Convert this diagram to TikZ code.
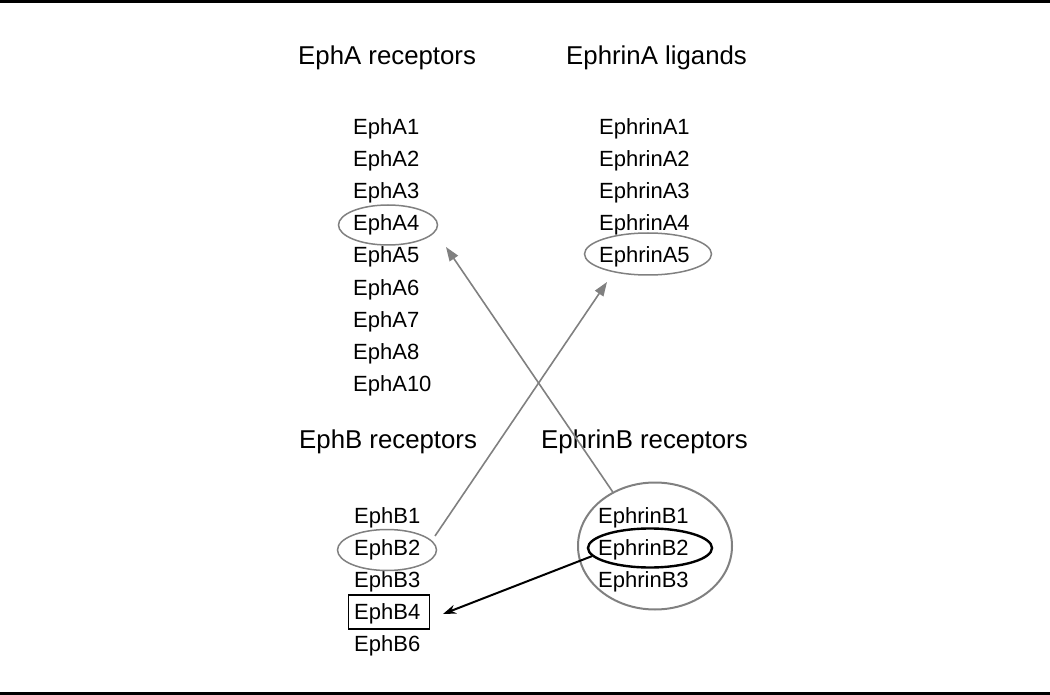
\documentclass[tikz,border=0pt]{standalone}
\usepackage{fontspec}
\setmainfont{Liberation Sans}
\usetikzlibrary{shapes.geometric,arrows.meta}
\definecolor{ringgray}{HTML}{808080}
\begin{document}
\begin{tikzpicture}[x=1pt,y=-1pt,
  item/.style={anchor=base west,inner sep=0pt,font=\fontsize{22}{26}\selectfont},
  ttl/.style={anchor=base west,inner sep=0pt,font=\fontsize{25.8}{30}\selectfont},
  gring/.style={ellipse,draw=ringgray,line width=1.5pt,inner sep=0pt},
  bring/.style={ellipse,draw=black,line width=2.4pt,inner sep=0pt},
  garrow/.style={draw=ringgray,line width=1.6pt,-{Triangle[length=14pt,width=10pt]},color=ringgray},
  barrow/.style={draw=black,line width=2pt,-{Stealth[length=13pt,width=9pt]}}]
\useasboundingbox (0,0) rectangle (1050,695);
\fill[black] (0,0) rectangle (1050,3.5);
\fill[black] (0,691.5) rectangle (1050,695);
% titles
\node[ttl] (tA) at (298,65) {EphA receptors};
\node[ttl] (tEA) at (566,65) {EphrinA ligands};
\node[ttl] (tB) at (299,448) {EphB receptors};
\node[ttl] (tEB) at (541,448) {EphrinB receptors};
% EphA list
\node[item] (a1) at (353,135) {EphA1};
\node[item] (a2) at (353,167) {EphA2};
\node[item] (a3) at (353,199) {EphA3};
\node[item] (a4) at (353,231) {EphA4};
\node[item] (a5) at (353,263) {EphA5};
\node[item] (a6) at (353,295) {EphA6};
\node[item] (a7) at (353,327) {EphA7};
\node[item] (a8) at (353,359) {EphA8};
\node[item] (a10) at (353,391) {EphA10};
% EphrinA list
\node[item] (ea1) at (599,135) {EphrinA1};
\node[item] (ea2) at (599,167) {EphrinA2};
\node[item] (ea3) at (599,199) {EphrinA3};
\node[item] (ea4) at (599,231) {EphrinA4};
\node[item] (ea5) at (599,263) {EphrinA5};
% EphB list
\node[item] (b1) at (354,523) {EphB1};
\node[item] (b2) at (354,555) {EphB2};
\node[item] (b3) at (354,587) {EphB3};
\node[item] (b4) at (354,619) {EphB4};
\node[item] (b6) at (354,651) {EphB6};
% EphrinB list
\node[item] (eb1) at (598,523) {EphrinB1};
\node[item] (eb2) at (598,555) {EphrinB2};
\node[item] (eb3) at (598,587) {EphrinB3};
% highlight shapes
\node[gring,minimum width=99pt,minimum height=40pt] (eA4) at (388,225) {};
\node[gring,minimum width=127pt,minimum height=42pt] (eEA5) at (648,254) {};
\node[gring,minimum width=99pt,minimum height=41pt] (eB2) at (387,550) {};
\node[draw=black,line width=1.3pt,inner sep=0pt,minimum width=81pt,minimum height=34pt] (bB4) at (389,612) {};
\node[gring,line width=2pt,minimum width=154pt,minimum height=127pt] (bigE) at (655,546) {};
\node[bring,minimum width=124pt,minimum height=39pt] (eEB2) at (650,548) {};
% arrows
\coordinate (tipA4) at (446,247);
\coordinate (tipA5) at (607,282);
\coordinate (tipB4) at (443,614);
\coordinate (fromB2) at (435,536);
\draw[garrow] (bigE.128) -- (tipA4);
\draw[garrow] (fromB2) -- (tipA5);
\draw[barrow] (eEB2.188) -- (tipB4);
\end{tikzpicture}
\end{document}
